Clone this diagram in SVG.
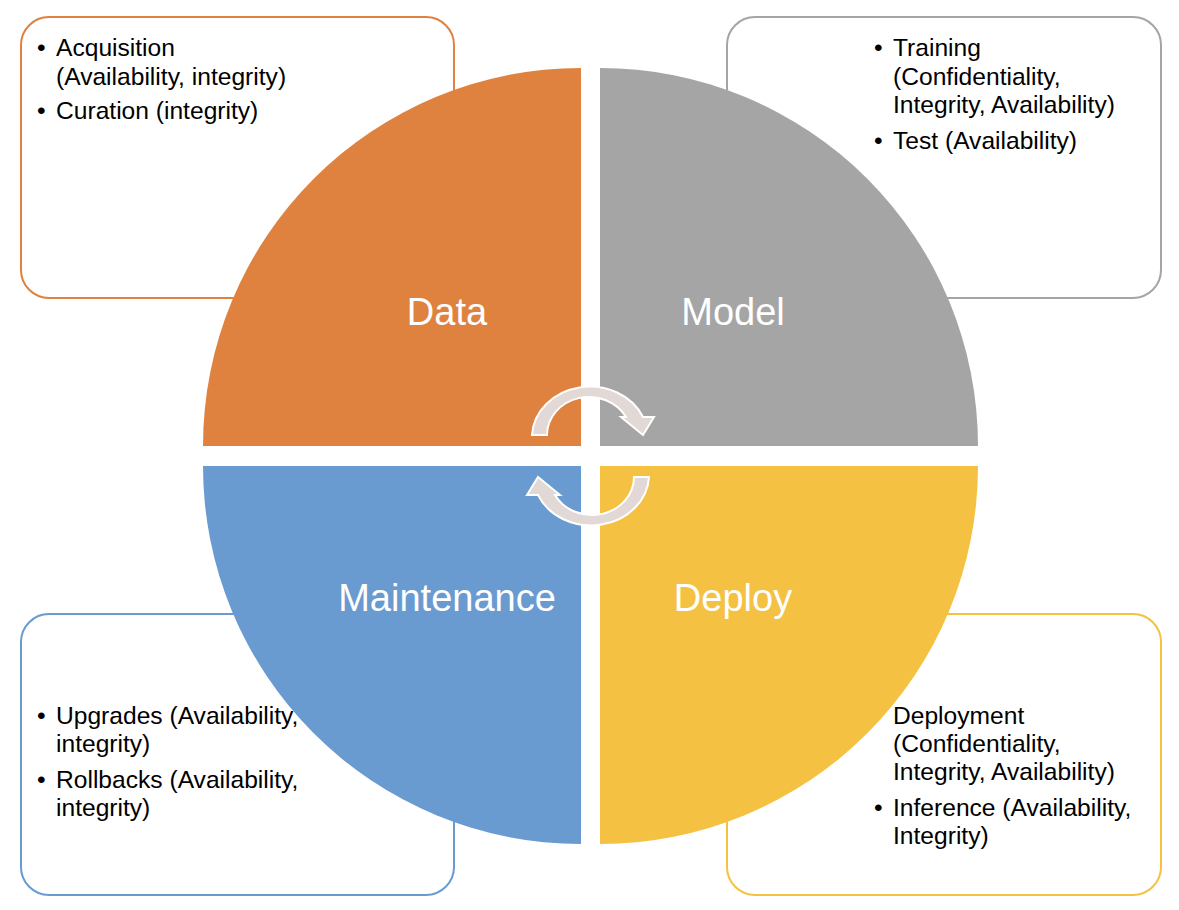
<svg xmlns="http://www.w3.org/2000/svg" width="1179" height="910" viewBox="0 0 1179 910">
<style>
.box{fill:#fff;stroke-width:2}
.bt{font-family:"Liberation Sans",Arial,sans-serif;font-size:24.6px;fill:#000}
.ql{font-family:"Liberation Sans",Arial,sans-serif;font-size:38px;fill:#fff;text-anchor:middle}
.arr{fill:#E2D8D5;stroke:#fff;stroke-width:2;stroke-linejoin:miter}
</style>
<defs>
<path id="cyc" d="M 532 435 A 58 51 0 0 1 643 417 L 654 417 L 643 435 L 621 417 L 626 417 A 42 38 0 0 0 547 435 Z"/>
</defs>
<rect width="1179" height="910" fill="#fff"/>
<g id="box-data">
<rect class="box" x="21" y="17" width="433" height="281" rx="28" stroke="#E0823F"/>
<text class="bt" x="37" y="56">•</text><text class="bt" x="56" y="56">Acquisition</text>
<text class="bt" x="56" y="85">(Availability, integrity)</text>
<text class="bt" x="37" y="119">•</text><text class="bt" x="56" y="119">Curation (integrity)</text>
</g>
<g id="box-model">
<rect class="box" x="727" y="17" width="434" height="281" rx="28" stroke="#A5A5A5"/>
<text class="bt" x="874" y="56">•</text><text class="bt" x="893" y="56">Training</text>
<text class="bt" x="893" y="85">(Confidentiality,</text>
<text class="bt" x="893" y="113">Integrity, Availability)</text>
<text class="bt" x="874" y="149">•</text><text class="bt" x="893" y="149">Test (Availability)</text>
</g>
<g id="box-maintenance">
<rect class="box" x="21" y="614" width="433" height="281" rx="28" stroke="#699BD0"/>
<text class="bt" x="37" y="724">•</text><text class="bt" x="56" y="724">Upgrades (Availability,</text>
<text class="bt" x="56" y="752">integrity)</text>
<text class="bt" x="37" y="788">•</text><text class="bt" x="56" y="788">Rollbacks (Availability,</text>
<text class="bt" x="56" y="816">integrity)</text>
</g>
<g id="box-deploy">
<rect class="box" x="727" y="614" width="434" height="281" rx="28" stroke="#F4C142"/>
<text class="bt" x="893" y="724">Deployment</text>
<text class="bt" x="893" y="752">(Confidentiality,</text>
<text class="bt" x="893" y="780">Integrity, Availability)</text>
<text class="bt" x="874" y="816">•</text><text class="bt" x="893" y="816">Inference (Availability,</text>
<text class="bt" x="893" y="844">Integrity)</text>
</g>
<g id="data">
<path d="M 581 446 L 203 446 A 378 378 0 0 1 581 68 Z" fill="#E0823F"/>
<text class="ql" x="447" y="325">Data</text>
</g>
<g id="model">
<path d="M 600 446 L 600 68 A 378 378 0 0 1 978 446 Z" fill="#A5A5A5"/>
<text class="ql" x="733" y="325">Model</text>
</g>
<g id="maintenance">
<path d="M 581 466 L 581 844 A 378 378 0 0 1 203 466 Z" fill="#699BD0"/>
<text class="ql" x="447" y="611">Maintenance</text>
</g>
<g id="deploy">
<path d="M 600 466 L 978 466 A 378 378 0 0 1 600 844 Z" fill="#F4C142"/>
<text class="ql" x="733" y="611">Deploy</text>
</g>
<g id="connectors">
<use href="#cyc" class="arr"/>
<use href="#cyc" class="arr" transform="rotate(180 590.5 456)"/>
</g>
</svg>
